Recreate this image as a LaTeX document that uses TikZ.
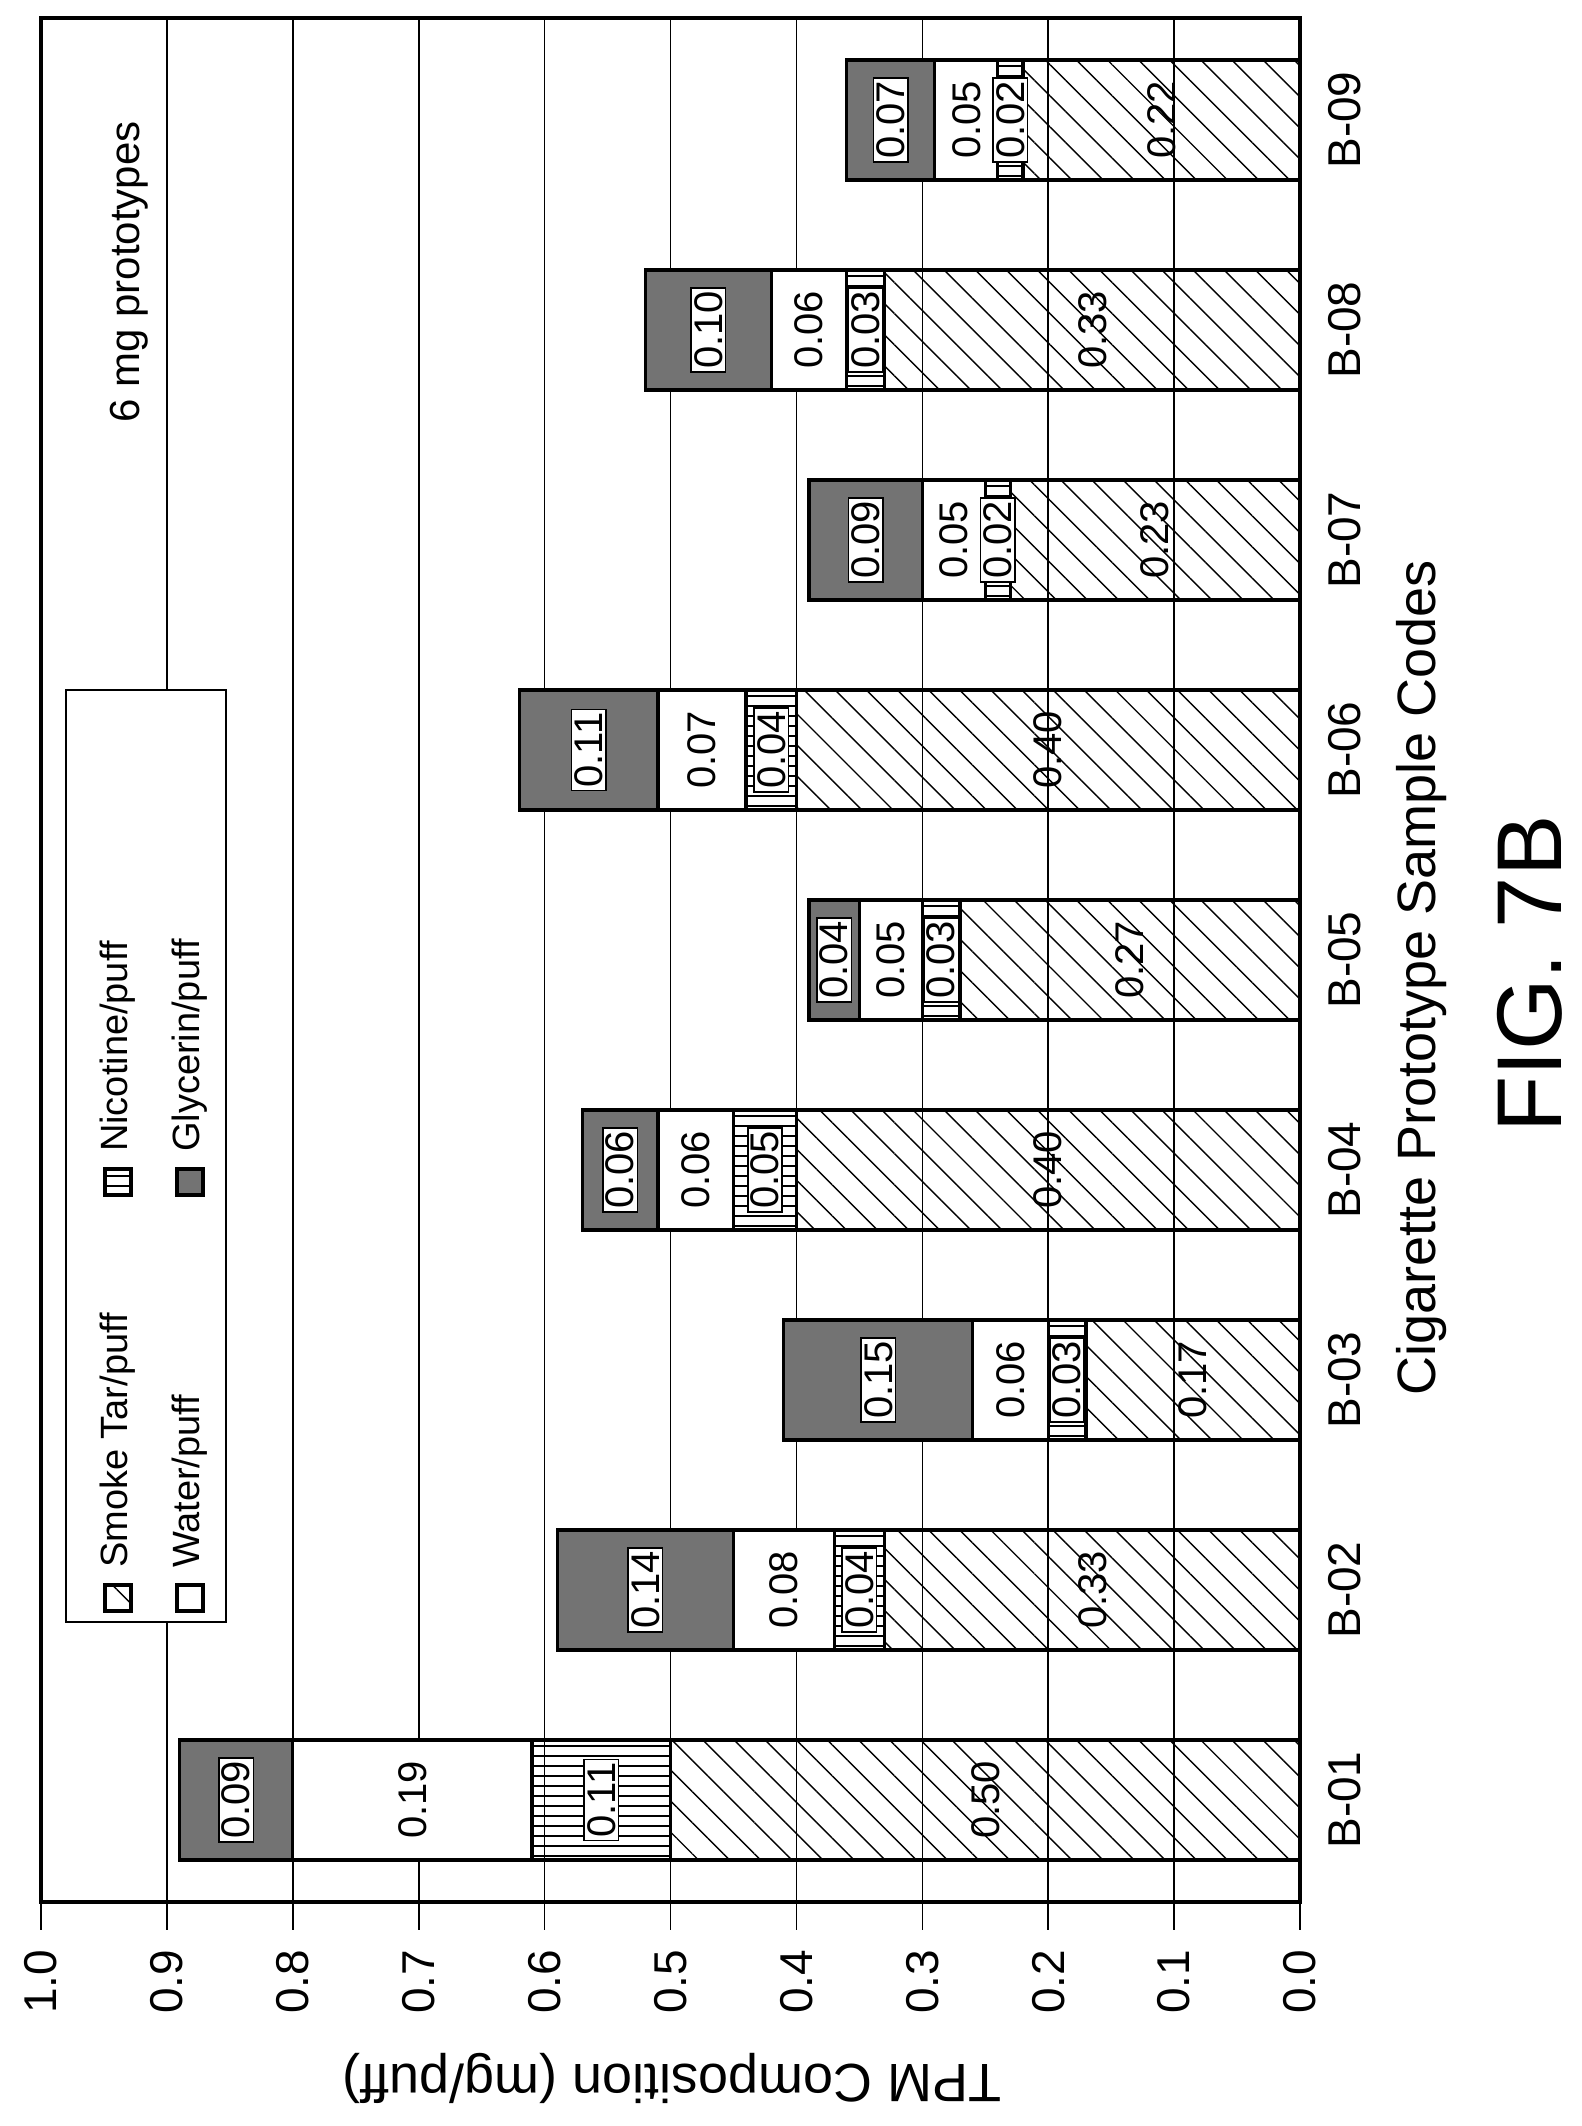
\documentclass[tikz,border=0pt]{standalone}
\usepackage{fontspec}
\setmainfont{Liberation Sans}
\usetikzlibrary{patterns.meta}
\begin{document}
\begin{tikzpicture}[x=0.5pt,y=-0.5pt,
  grid/.style={line width=0.8pt},
  seg/.style={draw,line width=1.6pt},
  tar/.style={seg,pattern={Lines[angle=-45,distance=11pt,line width=0.7pt]}},
  nic/.style={seg,pattern={Lines[angle=0,distance=5pt,line width=0.8pt]}},
  wat/.style={seg,fill=white},
  gly/.style={seg,fill=black!55},
  vlab/.style={font=\fontsize{20}{22}\selectfont,rotate=90,inner sep=1.5pt},
  boxlab/.style={vlab,draw,fill=white,line width=0.8pt},
  tick/.style={font=\fontsize{23}{25}\selectfont,rotate=90},
  cat/.style={font=\fontsize{23}{25}\selectfont,rotate=90},
  leg/.style={font=\fontsize{19}{21}\selectfont,rotate=90,anchor=west},
  sw/.style={draw,line width=1pt,minimum size=13pt,inner sep=0pt}]
\useasboundingbox (0,0) rectangle (1582,2126);
% value gridlines and ticks
\foreach \i/\lab in {0/0.0,1/0.1,2/0.2,3/0.3,4/0.4,5/0.5,6/0.6,7/0.7,8/0.8,9/0.9,10/1.0}{
  \pgfmathsetmacro{\gx}{1300-125.9*\i}
  \draw[grid] (\gx,18) -- (\gx,1930);
  \node[tick] (tk\i) at (\gx,1982) {\lab};
}
% bars
\foreach \k/\t/\n/\w/\g in {1/0.50/0.11/0.19/0.09,2/0.33/0.04/0.08/0.14,3/0.17/0.03/0.06/0.15,
  4/0.40/0.05/0.06/0.06,5/0.27/0.03/0.05/0.04,6/0.40/0.04/0.07/0.11,7/0.23/0.02/0.05/0.09,
  8/0.33/0.03/0.06/0.10,9/0.22/0.02/0.05/0.07}{
  \pgfmathsetmacro{\cy}{1800-210*(\k-1)}
  \pgfmathsetmacro{\ya}{\cy-60}
  \pgfmathsetmacro{\yb}{\cy+60}
  \pgfmathsetmacro{\xa}{1300}
  \pgfmathsetmacro{\xb}{1300-1259*\t}
  \pgfmathsetmacro{\xc}{\xb-1259*\n}
  \pgfmathsetmacro{\xd}{\xc-1259*\w}
  \pgfmathsetmacro{\xe}{\xd-1259*\g}
  \draw[tar] (\xa,\ya) rectangle (\xb,\yb);
  \draw[nic] (\xb,\ya) rectangle (\xc,\yb);
  \draw[wat] (\xc,\ya) rectangle (\xd,\yb);
  \draw[gly] (\xd,\ya) rectangle (\xe,\yb);
  \node[vlab] (lt\k) at ({(\xa+\xb)/2},\cy) {\t};
  \node[boxlab] (ln\k) at ({(\xb+\xc)/2},\cy) {\n};
  \node[vlab] (lw\k) at ({(\xc+\xd)/2},\cy) {\w};
  \node[boxlab] (lg\k) at ({(\xd+\xe)/2},\cy) {\g};
  \node[cat] (c\k) at (1345,\cy) {B-0\k};
}
% legend
\draw[fill=white,line width=1.2pt] (66,690) rectangle (226,1622);
\node[sw,tar] (s1) at (118,1598) {};
\node[leg] (t1) at (118,1575) {Smoke Tar/puff};
\node[sw,wat] (s2) at (190,1598) {};
\node[leg] (t2) at (190,1575) {Water/puff};
\node[sw,nic] (s3) at (118,1182) {};
\node[leg] (t3) at (118,1159) {Nicotine/puff};
\node[sw,gly] (s4) at (190,1182) {};
\node[leg] (t4) at (190,1159) {Glycerin/puff};
\node[font=\fontsize{21}{23}\selectfont,rotate=90] (note) at (129,272) {6 mg prototypes};
% frame
\draw[line width=2.2pt] (41,18) rectangle (1300,1902);
% titles
\node[font=\fontsize{27}{29}\selectfont,rotate=90] (xt) at (1422,978) {Cigarette Prototype Sample Codes};
\node[font=\fontsize{46}{48}\selectfont,rotate=90] (fig) at (1530,974) {FIG. 7B};
\node[font=\fontsize{27}{29}\selectfont,rotate=180] (yt) at (672,2078) {TPM Composition (mg/puff)};
\end{tikzpicture}
\end{document}
